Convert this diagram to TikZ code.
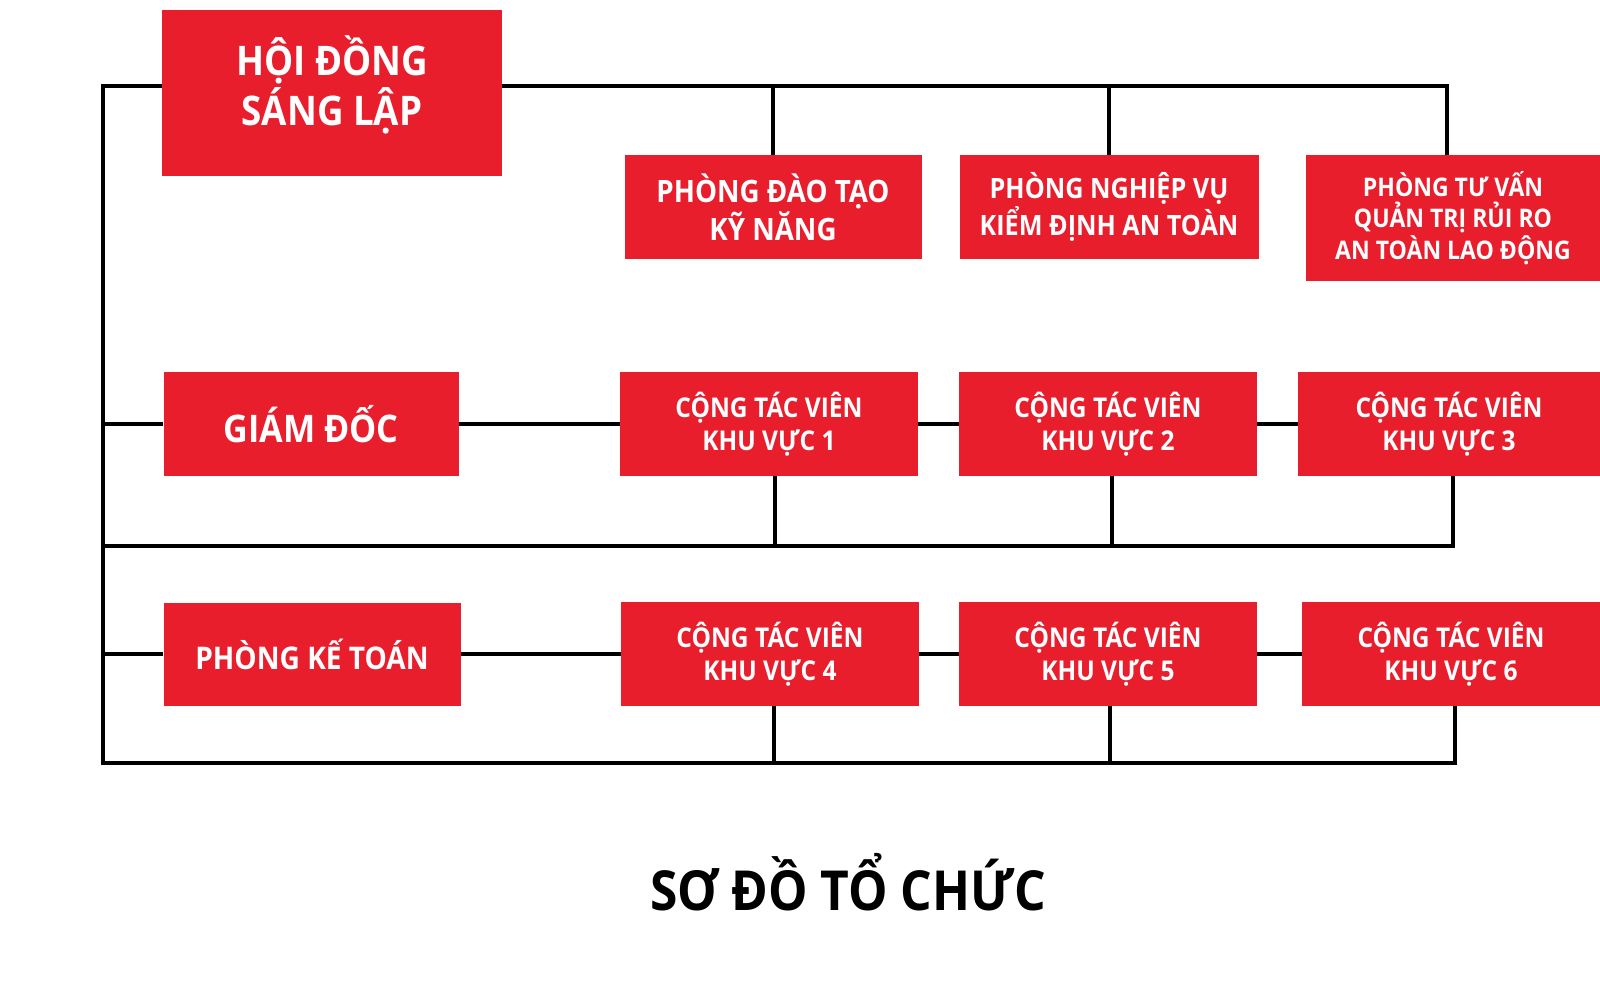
\documentclass[tikz,border=0pt]{standalone}
\usepackage{fontspec}
\setmainfont{Open Sans}[FakeStretch=0.9]
\definecolor{orgred}{HTML}{E91E2D}

\tikzset{
  redbox/.style 2 args={fill=orgred, text=white, align=center, inner sep=0pt,
    minimum width=#1*0.5pt, minimum height=#2*0.5pt},
  link/.style={line width=1.6pt, black},
}

\begin{document}
\begin{tikzpicture}[x=0.5pt, y=-0.5pt]
\useasboundingbox (0,0) rectangle (1600,999);

% top row
\node[redbox={340}{166}, text depth=12pt, font=\bfseries\fontsize{20.4}{25}\selectfont] (hdsl) at (332,93) {HỘI ĐỒNG\\SÁNG LẬP};
\node[redbox={297}{104}, font=\bfseries\fontsize{15.4}{18.9}\selectfont] (pdt) at (773,207) {PHÒNG ĐÀO TẠO\\KỸ NĂNG};
\node[redbox={299}{104}, font=\bfseries\fontsize{14}{17.3}\selectfont] (pnv) at (1109,207) {PHÒNG NGHIỆP VỤ\\KIỂM ĐỊNH AN TOÀN};
\node[redbox={294}{126}, font=\bfseries\fontsize{12.8}{15.8}\selectfont] (ptv) at (1453,218) {PHÒNG TƯ VẤN\\QUẢN TRỊ RỦI RO\\AN TOÀN LAO ĐỘNG};

% middle row
\node[redbox={295}{104}, font=\bfseries\fontsize{19}{23}\selectfont] (gd) at (311,424) {GIÁM ĐỐC};
\node[redbox={298}{104}, font=\bfseries\fontsize{13.6}{16.8}\selectfont] (ctv1) at (769,424) {CỘNG TÁC VIÊN\\KHU VỰC 1};
\node[redbox={298}{104}, font=\bfseries\fontsize{13.6}{16.8}\selectfont] (ctv2) at (1108,424) {CỘNG TÁC VIÊN\\KHU VỰC 2};
\node[redbox={302}{104}, font=\bfseries\fontsize{13.6}{16.8}\selectfont] (ctv3) at (1449,424) {CỘNG TÁC VIÊN\\KHU VỰC 3};

% bottom row
\node[redbox={297}{103}, font=\bfseries\fontsize{15.6}{19}\selectfont] (pkt) at (312,654) {PHÒNG KẾ TOÁN};
\node[redbox={298}{104}, font=\bfseries\fontsize{13.6}{16.8}\selectfont] (ctv4) at (770,654) {CỘNG TÁC VIÊN\\KHU VỰC 4};
\node[redbox={298}{104}, font=\bfseries\fontsize{13.6}{16.8}\selectfont] (ctv5) at (1108,654) {CỘNG TÁC VIÊN\\KHU VỰC 5};
\node[redbox={298}{104}, font=\bfseries\fontsize{13.6}{16.8}\selectfont] (ctv6) at (1451,654) {CỘNG TÁC VIÊN\\KHU VỰC 6};

\node[font=\bfseries\fontsize{27.6}{33}\selectfont] (title) at (848,882) {SƠ ĐỒ TỔ CHỨC};

% spine and bus lines
\coordinate (spinetop) at (103,86);
\coordinate (spinemid) at (103,546);
\coordinate (spinebot) at (103,763);

\draw[link] (hdsl.west |- spinetop) -- (spinetop) -- (spinebot) -| ([xshift=2pt]ctv6.south);
\draw[link] (hdsl.east |- spinetop) -| ([xshift=-3pt]ptv.north);
\draw[link] (pdt.north) -- (pdt.north |- spinetop);
\draw[link] (pnv.north) -- (pnv.north |- spinetop);

\draw[link] (gd.west) -- (gd.west -| spinetop);
\draw[link] (gd) -- (ctv1);
\draw[link] (ctv1) -- (ctv2);
\draw[link] (ctv2) -- (ctv3);
\draw[link] (spinemid) -| ([xshift=2pt]ctv3.south);
\draw[link] ([xshift=3pt]ctv1.south) -- ([xshift=3pt]ctv1.south |- spinemid);
\draw[link] ([xshift=2pt]ctv2.south) -- ([xshift=2pt]ctv2.south |- spinemid);

\draw[link] (pkt.west) -- (pkt.west -| spinetop);
\draw[link] (pkt) -- (ctv4);
\draw[link] (ctv4) -- (ctv5);
\draw[link] (ctv5) -- (ctv6);
\draw[link] ([xshift=2pt]ctv4.south) -- ([xshift=2pt]ctv4.south |- spinebot);
\draw[link] ([xshift=1pt]ctv5.south) -- ([xshift=1pt]ctv5.south |- spinebot);
\end{tikzpicture}
\end{document}
